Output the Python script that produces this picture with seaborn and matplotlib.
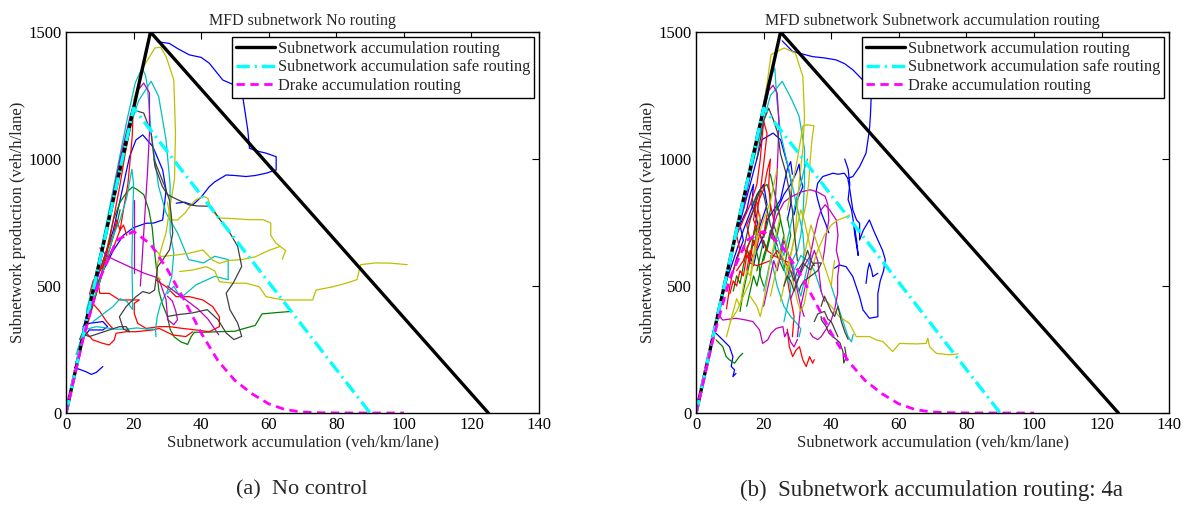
import matplotlib
matplotlib.use("Agg")
import matplotlib.pyplot as plt
import seaborn as sns

# MATLAB default line colours
colors = {
    "b": (0, 0, 1), "g": (0, 0.5, 0), "r": (1, 0, 0), "c": (0, 0.75, 0.75),
    "m": (0.75, 0, 0.75), "y": (0.75, 0.75, 0), "k": (0.25, 0.25, 0.25),
}

# reference curves
mfd_n = [0, 25, 125]
mfd_q = [0, 1500, 0]
safe_n = [0, 20, 90]
safe_q = [0, 1200, 0]
drake_n = [0, 5, 10, 15, 20, 25, 30, 35, 40, 45, 50, 55, 60, 65, 70, 75, 80, 90, 100]
drake_q = [0, 290, 530, 680, 715, 665, 565, 445, 315, 205, 128, 76, 36, 13, 4, 1, 0.3, 0, 0]

# ---- (a) No routing : trajectories (n veh/km/lane, q veh/h/lane) ----
a_blue1 = [(27, 1462), (30.6, 1455), (33, 1435), (36.5, 1410), (40, 1400), (42.4, 1377), (46.4, 1311),
           (50, 1290), (51.3, 1272), (52.3, 1246), (53.8, 1114), (54.3, 1042), (57, 1030), (59.2, 1023),
           (62.2, 1009), (62.2, 957), (59.2, 944), (56, 935), (53.3, 931), (50, 935), (47.4, 937),
           (44, 910), (42.4, 891), (40, 850), (37.5, 819), (35, 830), (32.6, 826)]
a_blue2 = [(5, 330), (8, 480), (11, 600), (14, 720), (15.8, 826), (17.3, 918), (18.8, 1009), (20.7, 1075),
           (22.7, 1095), (25.7, 1049), (28.6, 957), (29.6, 878), (29.1, 813), (28.6, 760), (26, 748),
           (23.7, 747), (20, 730), (17, 700), (14, 640), (11, 560), (8, 470)]
a_blue3 = [(2.5, 178), (4, 172), (6, 162), (7.5, 152), (9, 160), (10.9, 183)]
a_blue4 = [(5.4, 301), (6.9, 327), (10.9, 327), (12.3, 340), (10.9, 360), (6.9, 353), (5, 340)]
a_green1 = [(4, 290), (6, 350), (8, 430), (10, 520), (12, 640), (14, 760), (16, 830), (18, 870),
            (19.7, 890), (21, 880), (23, 860), (24.5, 800), (25.5, 730), (26, 660), (26.5, 600),
            (27, 540), (27.5, 480), (28.5, 430), (30, 380), (30.8, 330), (32, 300), (34, 280),
            (36, 270), (37, 300), (38, 318), (41, 318), (45, 320), (50, 322), (52, 330), (56, 345),
            (58, 390), (62, 395), (66.7, 400)]
a_green2 = [(3, 200), (5, 300), (7, 380), (9, 470), (11, 560), (13, 650), (15, 740), (16, 800)]
a_red1 = [(6, 330), (8, 430), (10, 520), (12, 620), (14, 760), (16, 900), (17.5, 1020), (19, 1120),
          (19.8, 1165), (19.6, 1090), (19, 1000), (18.3, 900), (17, 800), (16, 720), (14, 650),
          (12, 600), (10, 560), (8, 520), (7, 470), (8, 430), (10, 400), (12, 360), (14, 330)]
a_red2 = [(5, 330), (7.9, 288), (10.9, 274), (12.8, 268), (14.3, 288), (14.8, 314), (17.8, 320),
          (20.7, 320), (25.7, 327), (27.6, 333), (29.6, 320), (31.6, 307), (35.5, 301), (37.5, 320)]
a_red3 = [(9, 560), (10, 471), (12.8, 471), (15.8, 445), (18.8, 445), (21.7, 445), (20.2, 432),
          (20.2, 392), (21.2, 353), (23.7, 333), (27.6, 340), (30.6, 340), (34.5, 333), (38.5, 327),
          (42.4, 320), (45.4, 340), (45.4, 379), (43.4, 419), (40.5, 445), (36.5, 458), (32.6, 458),
          (29.6, 497), (26.6, 524)]
a_red4 = [(10, 560), (12, 640), (14, 700), (15, 760), (16, 720), (17, 740), (18, 700)]
a_cyan1 = [(6, 400), (9, 560), (12, 750), (15, 950), (18, 1150), (20.5, 1300), (22.5, 1358),
           (23.5, 1330), (24.1, 1286), (25.2, 1102), (27.4, 892), (29.6, 787), (33, 709), (36.3, 604),
           (40.7, 591), (44, 617), (48, 604), (48, 525), (44, 538), (38.5, 505), (34, 453),
           (31.9, 499), (30, 470)]
a_cyan2 = [(8, 500), (12, 720), (16, 960), (19, 1130), (21.5, 1230), (25.2, 1306), (27.4, 1247),
           (29.6, 1076), (30.8, 900), (30.8, 709), (31.9, 630), (31.3, 538), (30, 480), (28, 430),
           (27, 380), (26.5, 330), (26.6, 300)]
a_cyan3 = [(3, 230), (6, 360), (9, 480), (12, 600), (14, 700), (16, 760), (18, 850), (19.5, 960),
           (20, 900), (19.8, 800), (19.5, 600), (19.7, 450), (19.7, 407), (18, 440), (16, 450),
           (14, 420), (12, 400), (10, 380), (8, 360)]
a_cyan4 = [(6, 330), (9, 340), (12, 335), (15, 330), (18, 330), (21, 335), (24, 330), (26, 330)]
a_mag1 = [(7, 400), (10, 600), (13, 800), (16, 1000), (19, 1170), (21.4, 1273), (23, 1299),
          (24.7, 1260), (24.7, 1102), (24.1, 945), (23, 709), (22.5, 600), (22, 500)]
a_mag2 = [(10, 650), (12, 620), (14.2, 604), (18.6, 577), (23, 551), (27.4, 531), (29.6, 446),
          (30.1, 367), (31.9, 348), (33, 367), (32.5, 400), (31.5, 440), (30, 460)]
a_mag3 = [(30, 500), (33, 470), (36, 440), (39, 410), (42, 370), (45.2, 308)]
a_mag4 = [(20.2, 839), (20.2, 700), (20.2, 550)]
a_yellow1 = [(20, 1230), (23, 1365), (26.3, 1437), (28, 1440), (29.6, 1404), (31.9, 1312), (32.4, 1102),
             (32.1, 919), (30.8, 814), (29.6, 709), (28.5, 660), (27.6, 620), (27, 580), (26.8, 540),
             (28, 525)]
a_yellow2 = [(26.6, 642), (28.1, 616), (32.6, 622), (36.5, 629), (40.5, 642), (43.4, 602), (45.4, 589),
             (48, 600), (52, 604), (56, 615), (60, 640), (63.4, 656), (65, 640), (64, 605)]
a_yellow3 = [(30, 830), (31, 760), (33, 760), (35.2, 787), (37, 820), (38.5, 840), (40.7, 853),
             (42, 845), (43, 800), (45.2, 768), (50, 765), (54.2, 761), (58.4, 761), (60.6, 748),
             (60.6, 700), (62, 670), (63.4, 656)]
a_yellow4 = [(33.6, 557), (37.5, 563), (41.5, 576), (44, 560), (45.4, 517), (49.4, 511), (53.3, 511),
             (57.2, 497), (59.2, 458), (64.2, 445), (69.1, 445), (73, 445), (74, 484), (79, 497),
             (82.9, 511), (86.1, 525), (87.2, 584), (91.6, 591), (96, 590), (101, 584)]
a_gray1 = [(15, 900), (18, 1100), (19.7, 1194), (23, 1181), (25.2, 1102), (26.3, 971), (28.5, 892),
           (30, 860), (33, 840), (36.3, 820), (39, 815), (42.9, 814), (45.2, 768), (48.5, 709),
           (50.8, 656), (52, 577), (49.5, 512), (47.4, 472), (48.5, 407), (50.8, 354), (52, 302),
           (49.7, 289), (47.4, 315), (45, 367), (41.8, 407), (37.4, 394), (33, 387), (30, 380)]
a_gray2 = [(5, 310), (6.9, 301), (9.9, 314), (12.8, 327), (15.8, 340), (17.8, 340), (18.8, 320),
           (17, 330), (15.8, 379), (17.8, 419), (20.7, 458), (22.7, 478), (24.7, 471), (26.2, 484),
           (26.6, 524), (27.1, 576), (28.6, 602), (30.6, 642), (31.6, 707), (31.1, 786), (30.6, 839),
           (29, 900), (27.5, 950), (26, 1000)]

# ---- (b) Subnetwork accumulation routing ----
b_blue1 = [(25.5, 1465), (28.6, 1423), (31, 1415), (34.5, 1403), (38, 1398), (41.5, 1390), (44, 1375),
           (46.4, 1351), (50.3, 1298), (51.8, 1233), (51.6, 1170), (51.3, 1114), (50.3, 1023),
           (48.4, 970), (46.4, 931), (44.9, 924), (43.9, 944), (42, 940), (40.5, 944), (37.5, 931),
           (36, 905), (35.5, 870), (36, 840), (37.1, 787), (38.5, 740), (39.3, 709)]
b_blue2 = [(44.9, 924), (45.5, 880), (46.4, 799), (47.5, 760), (48.4, 747), (48.4, 681), (49.5, 720),
           (51.3, 760), (52.5, 720), (53.8, 681), (55.2, 640), (56, 604), (55.5, 560), (54.5, 520),
           (53.8, 470), (53.8, 420), (53.8, 379), (51.3, 373), (49.4, 406), (48.4, 458), (47.4, 497),
           (46.4, 537), (44.4, 576), (42.4, 583), (41, 570)]
b_blue3 = [(50.3, 510), (50.8, 563), (51.3, 590), (52, 560), (52.3, 537), (53.8, 550)]
b_blue4 = [(5.9, 314), (7.9, 288), (9.9, 261), (10.9, 222), (10.4, 183), (11.4, 170), (10.9, 143),
           (11.8, 156)]
b_blue5 = [(12, 700), (15, 850), (17, 950), (19.5, 1076), (22.8, 1102), (25, 1076), (27.2, 971),
           (28.3, 900), (28, 820), (27, 760)]
b_blue6 = [(24, 800), (26, 860), (28, 900), (29.6, 944), (30.5, 980), (31, 920), (31.6, 891),
           (30, 840), (29, 780)]
b_blue7 = [(8, 480), (10, 560), (12, 640), (14, 720), (16, 790), (18, 860), (20, 900), (21, 820),
           (19, 740), (17, 660)]
b_blue8 = [(11, 560), (12, 610), (14, 680), (13, 740), (15, 800), (16, 860), (17, 900), (16.5, 820),
           (18, 760), (19, 700), (20, 650)]
b_blue9 = [(16, 620), (17, 580), (18, 640), (20, 700), (21, 760), (23, 800), (25, 840), (26, 900),
           (27, 960), (28, 990), (28.5, 940)]
b_blue10 = [(44, 1000), (45, 960), (45.5, 900), (45, 840), (46, 800), (46.5, 760), (47, 700),
            (47.5, 660), (48, 620), (47.5, 680), (46.8, 740)]
b_green1 = [(5.9, 288), (7.9, 261), (8.9, 222), (9.9, 209), (11.4, 196), (12.8, 222), (13.8, 235)]
b_green2 = [(13, 400), (14, 480), (15, 540), (16, 600), (15, 650), (17, 700), (18, 770), (17, 830),
            (19, 880), (21, 900), (22, 860), (22, 800), (21, 740), (20, 690)]
b_green3 = [(15, 420), (16, 480), (17, 540), (18, 500), (19, 560), (20, 620), (22, 700), (23, 760),
            (24, 820), (25, 760), (26, 700), (25, 640)]
b_green4 = [(20, 600), (21, 650), (22, 720), (23, 680), (24, 620), (26, 560), (27, 640), (28, 700),
            (27, 770)]
b_green5 = [(11, 480), (12, 540), (13, 510), (14, 580), (15, 640), (16, 620), (17, 700), (18, 740),
            (17.5, 660), (18.5, 600), (19, 540), (20, 500)]
b_green6 = [(18, 560), (19, 620), (20, 680), (21, 640), (22, 700), (23, 740), (24, 700), (25, 760),
            (24, 820), (23, 880), (22, 940)]
b_red1 = [(9, 410), (10, 500), (11, 560), (13, 640), (12, 700), (14, 760), (16, 820), (18, 900),
          (19, 1000), (20, 1150), (21, 1100), (20, 980), (19, 870), (18, 780), (17, 700)]
b_red2 = [(12, 560), (14, 600), (16, 680), (15, 740), (17, 800), (18, 850), (17, 760), (19, 700),
          (21, 640), (23, 620), (26, 600), (28, 560)]
b_red3 = [(27, 330), (27.6, 261), (28.6, 222), (29.6, 248), (30.6, 261), (31.6, 209), (32.6, 183),
          (33.6, 222), (34.5, 196), (35, 210)]
b_red4 = [(14, 660), (16, 590), (18, 580), (20, 590), (22, 600), (24, 640), (26, 600), (28, 590),
          (27, 530), (28, 450), (29, 380), (28.5, 300)]
b_red5 = [(10, 470), (11, 520), (12, 500), (13, 560), (14, 540), (15, 620), (16, 600), (17, 680),
          (18, 650), (19, 720), (20, 700), (21, 780)]
b_red6 = [(15, 560), (16, 640), (17, 610), (18, 700), (19, 760), (18, 820), (20, 880), (21, 950),
          (22, 1000), (21.5, 900), (22, 820), (23, 760)]
b_cyan1 = [(12, 700), (16, 950), (19, 1150), (21, 1290), (23.3, 1358), (23.9, 1234), (25, 1102),
           (27.2, 971), (29.4, 840), (31.6, 709), (32, 640), (31.5, 580), (30, 540)]
b_cyan2 = [(15, 880), (19, 1100), (22, 1250), (25.5, 1306), (28.3, 1234), (30.5, 1168), (32.1, 1037),
           (32.1, 906), (31.6, 774), (31, 700), (30, 640), (28.5, 600), (27, 560)]
b_cyan3 = [(40, 500), (41, 460), (42, 420), (43, 380), (44, 340), (45, 300), (46, 280), (46.5, 310)]
b_cyan4 = [(22, 620), (23, 560), (24, 500), (25, 460), (26, 420), (28, 380), (30, 350), (31, 330),
           (30.5, 300)]
b_cyan5 = [(24, 660), (25.5, 600), (27, 520), (29, 560), (31, 620), (33, 600), (35, 560), (36, 520),
           (37, 480)]
b_cyan6 = [(20, 480), (21, 540), (22, 600), (23, 640), (24, 700), (25, 660), (26, 620), (27, 680),
           (28, 740), (29, 800), (30, 860), (31, 900), (32, 960), (33, 1000)]
b_cyan7 = [(26, 360), (27, 420), (28, 480), (27.5, 540), (28.5, 600), (29, 560), (30, 500), (31, 460),
           (32, 520), (33, 580), (34, 620)]
b_mag1 = [(7, 380), (7.9, 366), (11.8, 373), (14.8, 366), (16.8, 360), (18.8, 327), (19.7, 274),
          (21.2, 288), (22.2, 314), (23.7, 333), (25.7, 340), (26.2, 300), (27, 320), (28, 280),
          (29, 260), (30, 290)]
b_mag2 = [(28, 450), (30, 520), (32, 580), (33.8, 620), (35, 700), (36, 760), (37, 800), (38.2, 820),
          (39.5, 800), (41.5, 760), (42, 700), (41.5, 640), (42.4, 589), (41.9, 537), (41.9, 471),
          (41, 406), (40, 366), (38.5, 330), (37, 300), (36, 289), (34.5, 300), (33.8, 315)]
b_mag3 = [(22, 700), (24, 780), (26, 830), (28, 850), (31, 870), (33.8, 879), (36, 870), (38.2, 853),
          (39, 820), (39.3, 760), (38.5, 700), (38, 640), (37.5, 600)]
b_mag4 = [(14, 800), (17, 1000), (19.5, 1150), (21.5, 1270), (22.8, 1290), (24, 1260), (24.5, 1150),
          (24.3, 1050), (24, 950), (23.5, 850), (23, 760), (22.5, 700)]
b_mag5 = [(20, 420), (21, 480), (22, 540), (23, 600), (24, 560), (25, 620), (26, 680), (27, 640),
          (28, 600), (29, 540), (30, 480), (31, 420), (32, 380)]
b_mag6 = [(30, 300), (30.5, 360), (31, 420), (32, 480), (33, 540), (34, 600), (35, 640), (36, 600),
          (36.5, 540), (37, 480), (38, 440)]
b_yellow1 = [(20, 1200), (22.2, 1411), (26.1, 1437), (29.4, 1417), (31.6, 1325), (32.1, 1168),
             (31.6, 1037), (30.5, 906), (29.4, 709), (27.2, 577), (26, 500), (25, 440)]
b_yellow2 = [(27, 800), (28.5, 900), (30, 1000), (31, 1080), (31.6, 1129), (32.7, 1135), (34.9, 1131),
             (34.3, 1076), (33.8, 997), (33.3, 900), (32.5, 820), (31.5, 760)]
b_yellow3 = [(38, 450), (40, 420), (42.4, 379), (45.4, 353), (47.4, 301), (51.3, 301), (53.3, 288),
             (55.3, 281), (58.2, 242), (60.2, 274), (65.1, 272), (68.1, 274), (68.6, 294), (69.1, 261),
             (71.1, 235), (75, 229), (77.5, 233)]
b_yellow4 = [(10, 360), (12, 400), (14, 460), (16, 520), (17, 600), (18, 680), (20, 760), (22, 830),
             (23, 900), (24, 960)]
b_yellow5 = [(26, 700), (27, 640), (28, 560), (29, 500), (30, 440), (31, 400), (32, 430), (33, 500),
             (34, 560), (35, 600), (36, 640), (38, 700), (40, 740), (42, 760), (44, 770), (45.5, 780)]
b_yellow6 = [(16, 460), (18, 420), (19, 380), (20, 440), (21, 520), (22, 600), (23, 660), (24, 720),
             (25, 780)]
b_yellow7 = [(9, 300), (10, 350), (11, 400), (12, 450), (13, 420), (14, 500), (15, 560), (16, 540),
             (17, 620), (18, 700), (19, 780)]
b_yellow8 = [(22, 460), (23, 520), (24, 580), (25, 640), (26, 600), (27, 560), (28, 620), (29, 680),
             (30, 740), (31, 800), (32, 760), (33, 700), (34, 640)]
b_yellow9 = [(32, 620), (33, 680), (34, 740), (35, 700), (36, 660), (37, 620), (38, 580), (39, 540),
             (40, 500), (40.5, 560), (41, 600)]
b_gray1 = [(18, 1000), (20, 1150), (21.5, 1200), (23, 1150), (24.2, 1100), (25, 1020), (26.5, 950),
           (27.5, 880), (28.5, 800), (29, 720), (29.5, 660), (30, 600)]
b_gray2 = [(28, 560), (29, 520), (30, 560), (31.6, 591), (32.5, 580), (33.8, 564), (35, 590),
           (37.1, 591), (36, 560), (34, 540), (32, 520), (31, 500), (30.5, 480)]
b_gray3 = [(37, 380), (37.1, 367), (38.5, 340), (39.3, 315), (40.5, 300), (41.5, 290), (42.6, 276),
           (43.5, 240), (43.7, 197), (44.5, 220), (44, 260)]
b_gray4 = [(35, 360), (36, 390), (38, 400), (39, 370), (40, 360), (41, 330), (42, 300)]
b_gray5 = [(14, 640), (15, 700), (16, 760), (17, 800), (18, 840), (19, 880), (20, 860), (21, 800),
           (22, 740), (23, 700), (24, 660)]
b_gray6 = [(26, 500), (27, 540), (28, 520), (29, 480), (30, 520), (31, 560), (32, 600), (33, 640),
           (34, 600), (35, 580)]
b_gray7 = [(37, 420), (38, 460), (39, 430), (40, 400), (41, 380), (42, 420), (43, 360), (44, 320),
           (45, 290)]

left_paths = [("b", a_blue1), ("b", a_blue2), ("b", a_blue3), ("b", a_blue4), ("g", a_green1),
              ("g", a_green2), ("r", a_red1), ("r", a_red2), ("r", a_red3), ("r", a_red4),
              ("c", a_cyan1), ("c", a_cyan2), ("c", a_cyan3), ("c", a_cyan4), ("m", a_mag1),
              ("m", a_mag2), ("m", a_mag3), ("m", a_mag4), ("y", a_yellow1), ("y", a_yellow2),
              ("y", a_yellow3), ("y", a_yellow4), ("k", a_gray1), ("k", a_gray2)]
right_paths = [("b", b_blue1), ("b", b_blue2), ("b", b_blue3), ("b", b_blue4), ("b", b_blue5),
               ("b", b_blue6), ("b", b_blue7), ("b", b_blue8), ("b", b_blue9), ("b", b_blue10),
               ("g", b_green1), ("g", b_green2), ("g", b_green3), ("g", b_green4), ("g", b_green5),
               ("g", b_green6), ("r", b_red1), ("r", b_red2), ("r", b_red3), ("r", b_red4),
               ("r", b_red5), ("r", b_red6), ("c", b_cyan1), ("c", b_cyan2), ("c", b_cyan3),
               ("c", b_cyan4), ("c", b_cyan5), ("c", b_cyan6), ("c", b_cyan7), ("m", b_mag1),
               ("m", b_mag2), ("m", b_mag3), ("m", b_mag4), ("m", b_mag5), ("m", b_mag6),
               ("y", b_yellow1), ("y", b_yellow2), ("y", b_yellow3), ("y", b_yellow4), ("y", b_yellow5),
               ("y", b_yellow6), ("y", b_yellow7), ("y", b_yellow8), ("y", b_yellow9),
               ("k", b_gray1), ("k", b_gray2), ("k", b_gray3), ("k", b_gray4), ("k", b_gray5),
               ("k", b_gray6), ("k", b_gray7)]

titles = ["MFD subnetwork No routing", "MFD subnetwork Subnetwork accumulation routing"]
captions = ["(a)  No control", "(b)  Subnetwork accumulation routing: 4a"]

sns.set_theme(style="white")
plt.rcParams["font.family"] = ["Liberation Serif", "DejaVu Serif"]

fig = plt.figure(figsize=(11.96, 5.08), dpi=100)
ax1 = fig.add_axes([0.0552, 0.187, 0.3955, 0.75])
ax2 = fig.add_axes([0.582, 0.187, 0.3955, 0.75])

for ax, paths, title in [(ax1, left_paths, titles[0]), (ax2, right_paths, titles[1])]:
    for c, path in paths:
        sns.lineplot(x=[p[0] for p in path], y=[p[1] for p in path], color=colors[c],
                     linewidth=0.9, sort=False, estimator=None, ax=ax)
    sns.lineplot(x=mfd_n, y=mfd_q, color="black", linewidth=2.4, sort=False, estimator=None,
                 label="Subnetwork accumulation routing", ax=ax)
    sns.lineplot(x=safe_n, y=safe_q, color="cyan", linewidth=2.4, sort=False, estimator=None,
                 linestyle=(0, (4, 1.5, 0.6, 1.5)), label="Subnetwork accumulation safe routing", ax=ax)
    sns.lineplot(x=drake_n, y=drake_q, color="magenta", linewidth=2.0, sort=False, estimator=None,
                 linestyle=(0, (3, 2)), label="Drake accumulation routing", ax=ax)

    ax.set_xlim(0, 140)
    ax.set_ylim(0, 1500)
    ax.set_xticks(range(0, 141, 20))
    ax.set_yticks([0, 500, 1000, 1500])
    ax.tick_params(direction="in", top=True, right=True, length=5, width=0.8,
                   labelsize=12, colors="black", pad=3)
    for s in ax.spines.values():
        s.set_color("black")
        s.set_linewidth(1.0)
    ax.set_xlabel("Subnetwork accumulation (veh/km/lane)", fontsize=12, labelpad=1)
    ax.set_ylabel("Subnetwork production (veh/h/lane)", fontsize=12, labelpad=2)
    ax.set_title(title, fontsize=11.5, pad=5)
    leg = ax.legend(loc="upper right", fontsize=11.7, frameon=True, fancybox=False,
                    edgecolor="black", framealpha=1, borderaxespad=0.3, handlelength=2.35,
                    borderpad=0.25, labelspacing=0.15, handletextpad=0.2)
    leg.get_frame().set_linewidth(1.0)

fig.text(0.2525, 0.035, captions[0], ha="center", va="center", fontsize=16)
fig.text(0.779, 0.035, captions[1], ha="center", va="center", fontsize=16.5)

fig.savefig("out.png", dpi=100)
